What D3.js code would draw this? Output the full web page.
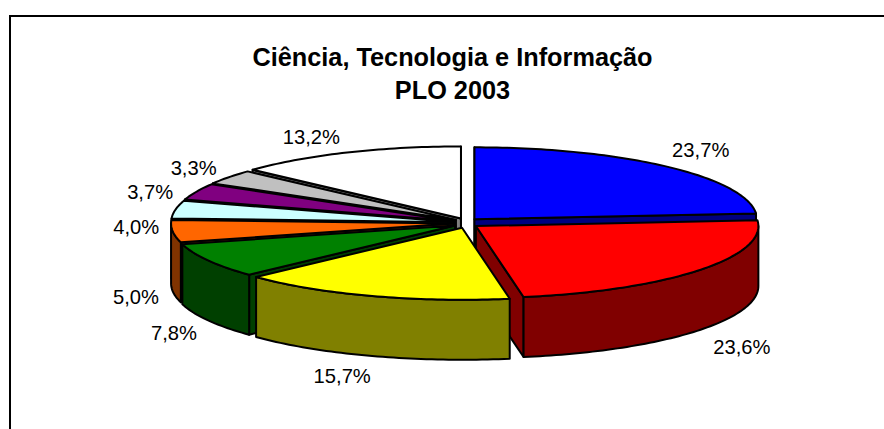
<!DOCTYPE html>
<html><head><meta charset="utf-8">
<script src="https://cdnjs.cloudflare.com/ajax/libs/d3/7.8.5/d3.min.js"></script>
<style>html,body{margin:0;padding:0;background:#fff}svg{display:block}text{font-family:"Liberation Sans",Arial,sans-serif;fill:#000}</style>
</head><body><svg id="c" width="884" height="429"></svg>
<script>
const titleLines = ["Ciência, Tecnologia e Informação", "PLO 2003"];
const values = [23.7, 23.6, 15.7, 7.8, 5.0, 4.0, 3.7, 3.3, 13.2];
const topColors = ["#0000ff","#ff0000","#ffff00","#008000","#ff6600","#ccffff","#800080","#c0c0c0","#ffffff"];
const sideColors = ["#000080","#800000","#808000","#004000","#803300","#668080","#400040","#606060","#808080"];
const labelNudges = [[5,1],[8,2],[-16,-3],[4,1],[7,3],[4,22],[-6,10],[0,5],[-18,6]];
const drawOrder = [8,0,7,6,5,4,3,1,2];

const W=884,H=429, cx=466, cy=223, rx=282.5, ry=72, depth=60, explodeX=12.5, explodeY=5;
const svg=d3.select("#c");
const X=d3.scaleLinear().domain([-1,1]).range([-rx,rx]);
const Y=d3.scaleLinear().domain([-1,1]).range([-ry,ry]);
const pie=d3.pie().sort(null);
const arcs=pie(values);
const line=d3.line();
const off=a=>[cx+explodeX*Math.sin(a), cy-explodeY*Math.cos(a)];
const rim=(c,a,dz=0)=>[c[0]+X(Math.sin(a)), c[1]+Y(-Math.cos(a))+dz];
const sweep=(c,a0,a1,dz=0)=>{const n=Math.max(2,Math.ceil(Math.abs(a1-a0)/0.02));return d3.range(n+1).map(i=>rim(c,a0+(a1-a0)*i/n,dz));};

const g=svg.append("g").attr("stroke","#000").attr("stroke-width",2).attr("stroke-linejoin","round");
drawOrder.forEach(i=>{
  const d=arcs[i], a0=d.startAngle, a1=d.endAngle, c=off((a0+a1)/2), eps=1e-9;
  const cut=a=>{const p=rim(c,a);return line([c,p,[p[0],p[1]+depth],[c[0],c[1]+depth]])+"Z";};
  if(Math.sin(a0)<=eps) g.append("path").attr("d",cut(a0)).attr("fill",sideColors[i]);
  if(Math.sin(a1)>=-eps) g.append("path").attr("d",cut(a1)).attr("fill",sideColors[i]);
  const w0=Math.max(a0,Math.PI/2), w1=Math.min(a1,Math.PI*1.5);
  if(w1>w0) g.append("path").attr("d",line(sweep(c,w0,w1).concat(sweep(c,w1,w0,depth)))+"Z").attr("fill",sideColors[i]);
  g.append("path").attr("d",line([c].concat(sweep(c,a0,a1)))+"Z").attr("fill",topColors[i]);
});

const fmt=v=>v.toFixed(1).replace(".",",")+"%";
svg.append("g").selectAll("text").data(arcs).join("text")
  .attr("text-anchor","middle").attr("font-size",20.2).attr("dominant-baseline","central")
  .attr("x",(d,i)=>cx+1.2*rx*Math.sin((d.startAngle+d.endAngle)/2)+labelNudges[i][0])
  .attr("y",(d,i)=>{const m=(d.startAngle+d.endAngle)/2;return cy-1.4*ry*Math.cos(m)+(m>Math.PI/2&&m<Math.PI*1.5?depth:0)+labelNudges[i][1];})
  .text(d=>fmt(d.value));

svg.append("g").selectAll("text").data(titleLines).join("text")
  .attr("text-anchor","middle").attr("font-weight","bold").attr("font-size",25.3)
  .attr("x",452.5).attr("y",(d,i)=>66+33*i).text(d=>d);

svg.append("path").attr("d",d3.line()([[10,H],[10,16],[W,16]])).attr("fill","none").attr("stroke","#000").attr("stroke-width",2);
</script></body></html>
